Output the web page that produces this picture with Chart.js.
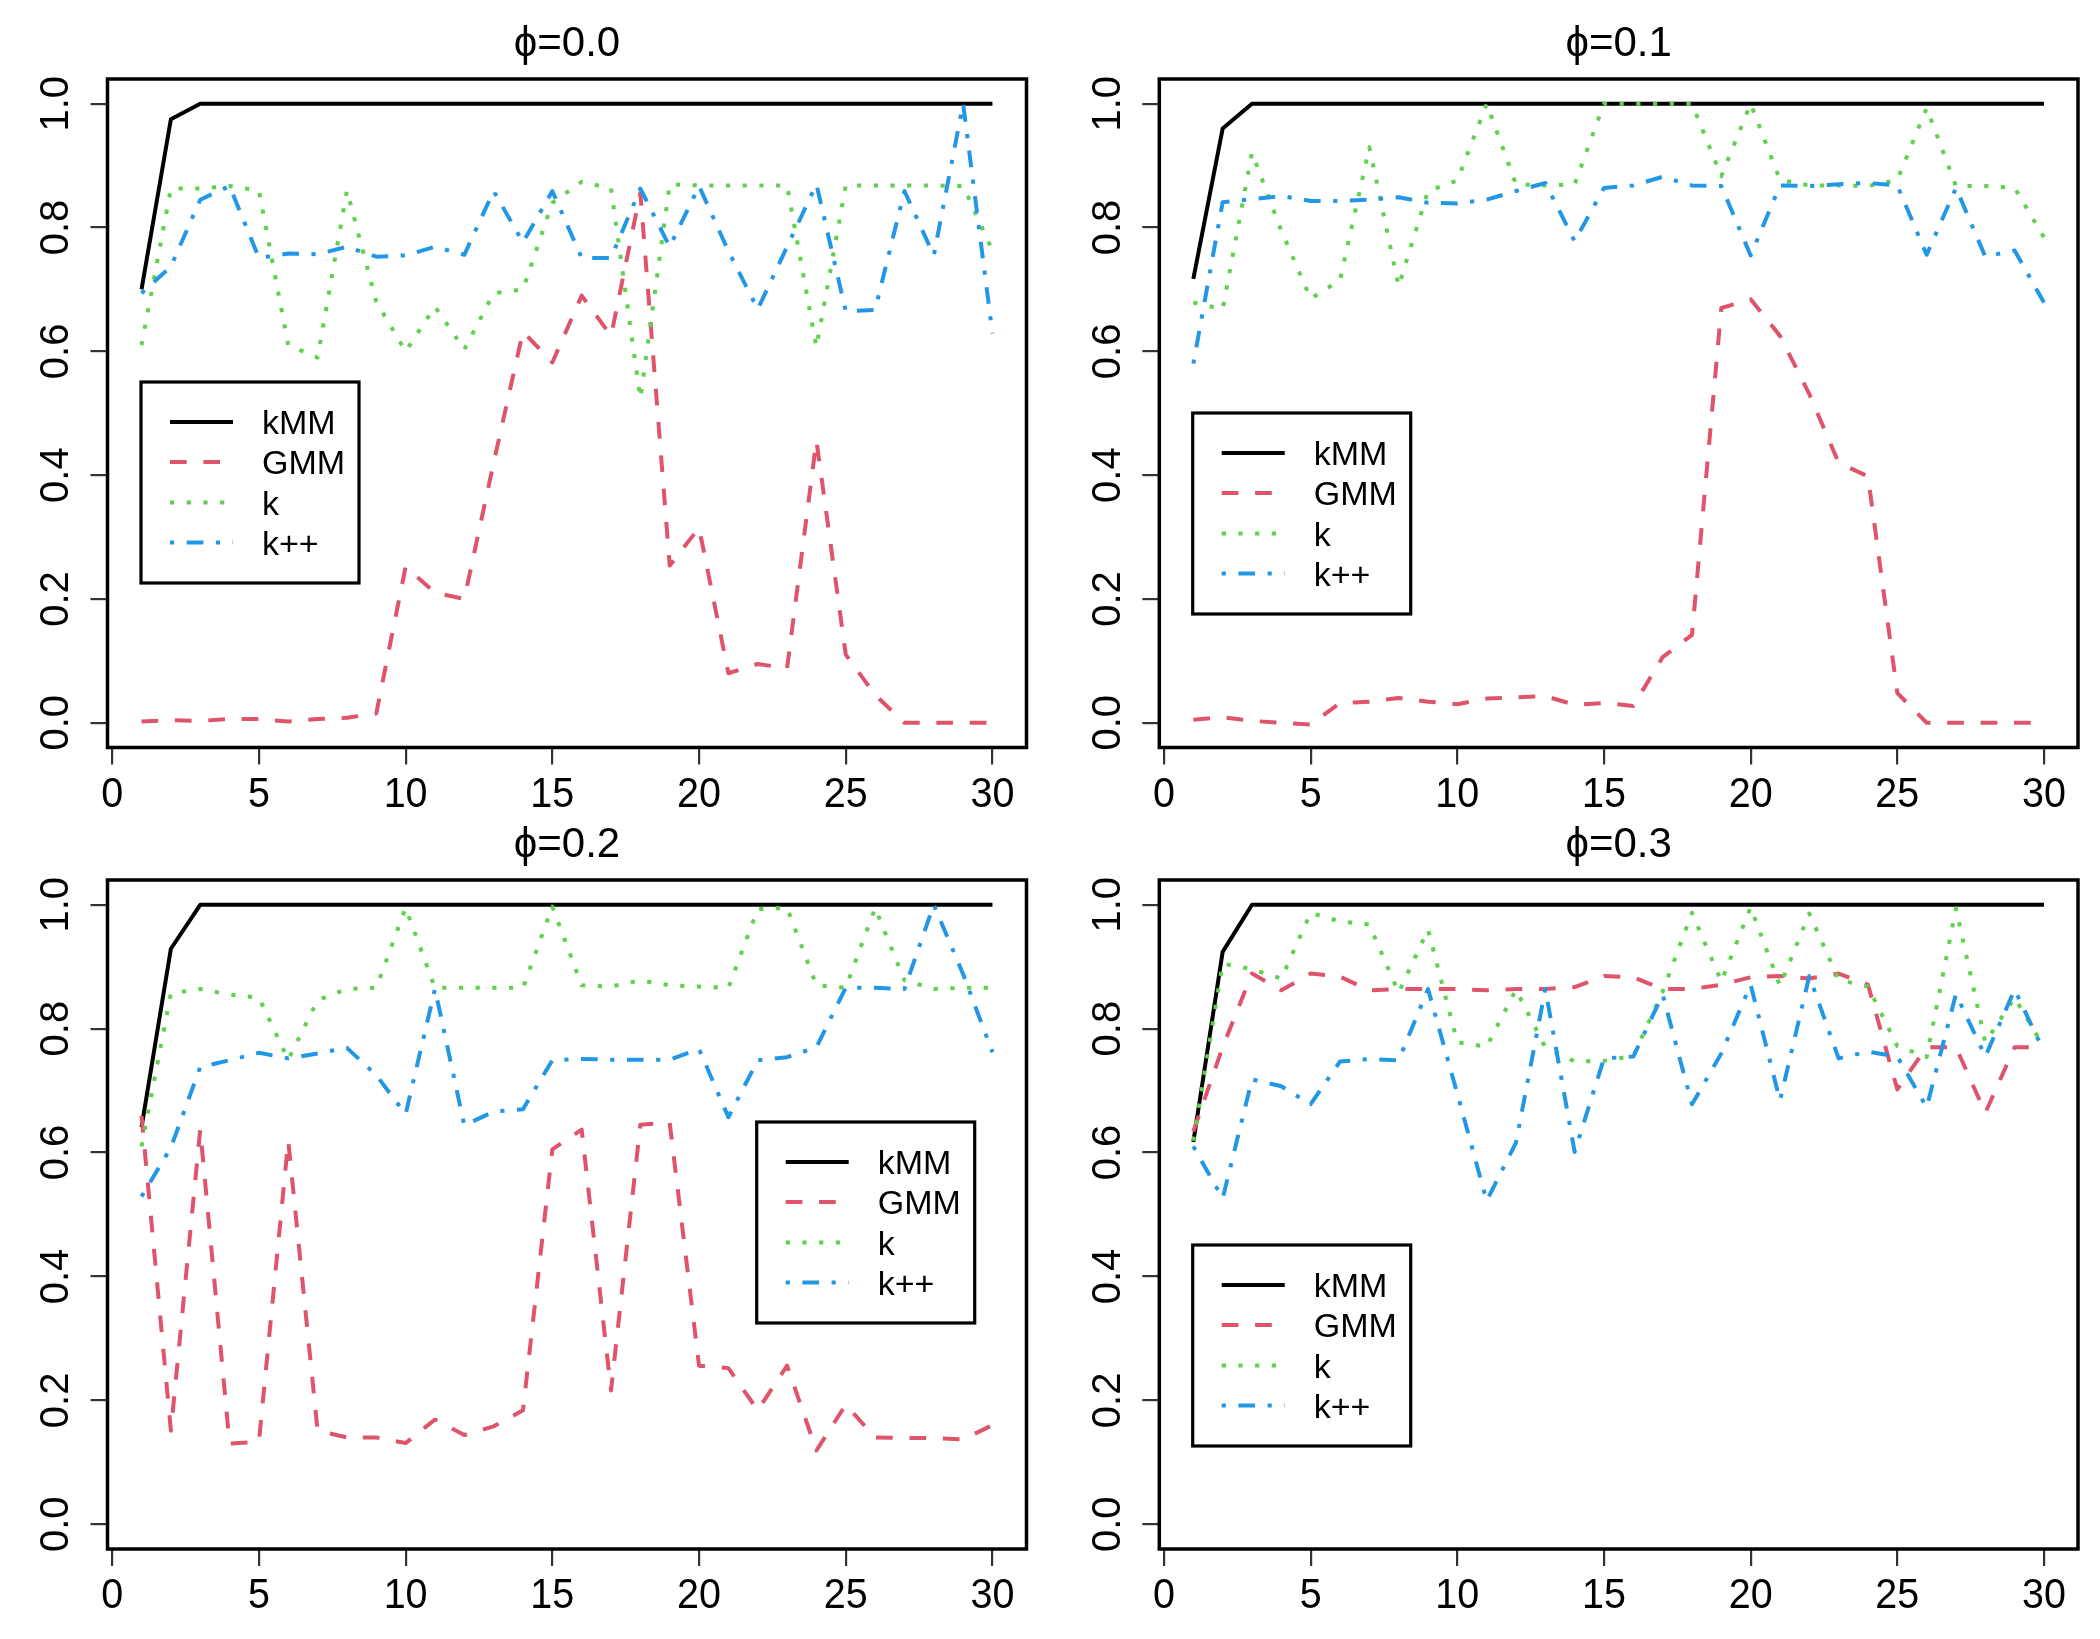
<!DOCTYPE html>
<html>
<head>
<meta charset="utf-8">
<script src="https://cdn.jsdelivr.net/npm/chart.js@4.4.1/dist/chart.umd.min.js"></script>
<style>
  html, body { margin: 0; padding: 0; background: #ffffff; }
  #wrap { position: relative; width: 2100px; height: 1639px; background: #ffffff; overflow: hidden; }
  #wrap canvas { position: absolute; }
</style>
</head>
<body>
<div id="wrap"></div>
<script>
// ---------------- DATA ----------------
const iterations = [1,2,3,4,5,6,7,8,9,10,11,12,13,14,15,16,17,18,19,20,21,22,23,24,25,26,27,28,29,30];
const seriesNames = ['kMM', 'GMM', 'k', 'k++'];
const panelTitles = ['\u03D5=0.0', '\u03D5=0.1', '\u03D5=0.2', '\u03D5=0.3'];
const xTickValues = [0, 5, 10, 15, 20, 25, 30];
const xTickLabels = ['0', '5', '10', '15', '20', '25', '30'];
const yTickValues = [0, 0.2, 0.4, 0.6, 0.8, 1.0];
const yTickLabels = ['0.0', '0.2', '0.4', '0.6', '0.8', '1.0'];

// phi = 0.0
const kMM_phi00 = [0.70,0.975,1,1,1,1,1,1,1,1,1,1,1,1,1,1,1,1,1,1,1,1,1,1,1,1,1,1,1,1];
const GMM_phi00 = [0.002,0.004,0.003,0.006,0.006,0.002,0.006,0.008,0.015,0.252,0.21,0.20,0.42,0.632,0.582,0.69,0.625,0.856,0.254,0.315,0.08,0.095,0.088,0.456,0.11,0.045,0.0,0.0,0.0,0.0];
const k_phi00   = [0.61,0.863,0.863,0.867,0.86,0.61,0.59,0.86,0.68,0.60,0.672,0.603,0.694,0.70,0.84,0.874,0.863,0.524,0.87,0.868,0.868,0.868,0.868,0.607,0.868,0.868,0.868,0.868,0.867,0.763];
const kpp_phi00 = [0.694,0.737,0.845,0.867,0.751,0.758,0.757,0.769,0.753,0.755,0.769,0.756,0.859,0.776,0.859,0.751,0.751,0.863,0.769,0.867,0.762,0.668,0.769,0.87,0.665,0.667,0.859,0.755,1.0,0.629];

// phi = 0.1
const kMM_phi01 = [0.717,0.96,1,1,1,1,1,1,1,1,1,1,1,1,1,1,1,1,1,1,1,1,1,1,1,1,1,1,1,1];
const GMM_phi01 = [0.005,0.009,0.003,0.0,-0.003,0.032,0.034,0.04,0.034,0.03,0.039,0.041,0.043,0.029,0.032,0.027,0.106,0.142,0.67,0.684,0.625,0.531,0.42,0.398,0.048,0.0,0.0,0.0,0.0,0.0];
const k_phi01   = [0.679,0.668,0.921,0.795,0.685,0.715,0.93,0.705,0.859,0.876,1.0,0.87,0.868,0.87,1.0,1.0,1.0,1.0,0.883,1.0,0.877,0.868,0.868,0.867,0.877,0.993,0.867,0.867,0.864,0.784];
const kpp_phi01 = [0.58,0.841,0.846,0.851,0.843,0.843,0.845,0.849,0.84,0.839,0.845,0.859,0.872,0.778,0.864,0.868,0.882,0.868,0.867,0.755,0.868,0.867,0.87,0.872,0.868,0.756,0.864,0.753,0.763,0.679];

// phi = 0.2
const kMM_phi02 = [0.641,0.929,1,1,1,1,1,1,1,1,1,1,1,1,1,1,1,1,1,1,1,1,1,1,1,1,1,1,1,1];
const GMM_phi02 = [0.659,0.151,0.637,0.13,0.133,0.619,0.151,0.14,0.14,0.131,0.169,0.144,0.158,0.184,0.605,0.637,0.216,0.645,0.648,0.256,0.252,0.184,0.256,0.119,0.193,0.14,0.139,0.139,0.137,0.16];
const k_phi02   = [0.61,0.857,0.864,0.855,0.85,0.75,0.846,0.864,0.866,0.995,0.866,0.866,0.866,0.866,0.997,0.87,0.868,0.878,0.87,0.868,0.866,0.993,0.995,0.87,0.866,0.995,0.878,0.864,0.866,0.866];
const kpp_phi02 = [0.529,0.608,0.738,0.749,0.761,0.752,0.76,0.769,0.725,0.662,0.864,0.644,0.666,0.67,0.749,0.751,0.75,0.75,0.75,0.767,0.657,0.749,0.754,0.77,0.866,0.866,0.864,1.0,0.888,0.762];

// phi = 0.3
const kMM_phi03 = [0.617,0.924,1,1,1,1,1,1,1,1,1,1,1,1,1,1,1,1,1,1,1,1,1,1,1,1,1,1,1,1];
const GMM_phi03 = [0.634,0.77,0.889,0.862,0.889,0.884,0.862,0.864,0.864,0.864,0.862,0.864,0.864,0.867,0.885,0.883,0.864,0.864,0.871,0.883,0.885,0.881,0.889,0.871,0.702,0.77,0.77,0.664,0.77,0.77];
const k_phi03   = [0.619,0.905,0.896,0.881,0.987,0.973,0.968,0.858,0.96,0.778,0.771,0.863,0.77,0.747,0.748,0.756,0.86,0.987,0.876,0.996,0.869,0.986,0.879,0.868,0.772,0.754,0.994,0.778,0.85,0.77];
const kpp_phi03 = [0.61,0.526,0.718,0.707,0.678,0.747,0.751,0.749,0.864,0.695,0.522,0.616,0.864,0.601,0.752,0.755,0.855,0.678,0.76,0.871,0.684,0.885,0.752,0.763,0.755,0.673,0.856,0.755,0.863,0.763];

const panelSeries = [
  [kMM_phi00, GMM_phi00, k_phi00, kpp_phi00],
  [kMM_phi01, GMM_phi01, k_phi01, kpp_phi01],
  [kMM_phi02, GMM_phi02, k_phi02, kpp_phi02],
  [kMM_phi03, GMM_phi03, k_phi03, kpp_phi03]
];

// ---------------- STYLE / LAYOUT ----------------
const FONT = '"Liberation Sans", Arial, Helvetica, sans-serif';
const seriesStyles = [
  { color: '#000000', dash: [], width: 4 },
  { color: '#DF536B', dash: [16.7, 16.7], width: 4 },
  { color: '#61D04F', dash: [4.2, 12.5], width: 4 },
  { color: '#2297E6', dash: [4.2, 12.5, 16.7, 12.5], width: 4 }
];
const panelLayout = [
  { left: 0,    top: 0,   w: 1050, h: 820, area: { left: 107.5, top: 79, right: 1026.5, bottom: 747.5 }, legend: { dx: 33.5,  dy: 303 } },
  { left: 1050, top: 0,   w: 1050, h: 820, area: { left: 109.3, top: 79, right: 1028,   bottom: 747.5 }, legend: { dx: 33.4,  dy: 334 } },
  { left: 0,    top: 820, w: 1050, h: 819, area: { left: 107.5, top: 60, right: 1026.5, bottom: 729 },   legend: { dx: 649.2, dy: 242 } },
  { left: 1050, top: 820, w: 1050, h: 819, area: { left: 109.3, top: 60, right: 1028,   bottom: 729 },   legend: { dx: 33.4,  dy: 365 } }
];

function makeDecor(idx) {
  const L = panelLayout[idx];
  return {
    id: 'decor' + idx,
    afterDraw(chart) {
      const ctx = chart.ctx;
      const A = chart.chartArea;
      const xs = chart.scales.x, ys = chart.scales.y;
      ctx.save();
      // plot frame
      ctx.setLineDash([]);
      ctx.strokeStyle = '#000';
      ctx.lineWidth = 3.5;
      ctx.strokeRect(A.left, A.top, A.right - A.left, A.bottom - A.top);

      ctx.fillStyle = '#000';
      // x tick labels
      ctx.font = '42px ' + FONT;
      ctx.textAlign = 'center';
      ctx.textBaseline = 'alphabetic';
      xTickValues.forEach((v, i) => {
        const px = xs.getPixelForValue(v);
        ctx.save();
        ctx.translate(px, A.bottom + 59);
        ctx.scale(0.94, 1);
        ctx.fillText(xTickLabels[i], 0, 0);
        ctx.restore();
      });
      // y tick labels (rotated, parallel to axis)
      ctx.font = '40px ' + FONT;
      yTickValues.forEach((v, i) => {
        const py = ys.getPixelForValue(v);
        ctx.save();
        ctx.translate(A.left - 39.5, py);
        ctx.rotate(-Math.PI / 2);
        ctx.fillText(yTickLabels[i], 0, 0);
        ctx.restore();
      });
      // title
      ctx.font = '42px ' + FONT;
      ctx.save();
      ctx.translate((A.left + A.right) / 2, A.top - 23);
      ctx.fillText(panelTitles[idx], 0, 0);
      ctx.restore();

      // legend
      const lx = A.left + L.legend.dx, ly = A.top + L.legend.dy;
      ctx.lineWidth = 3.2;
      ctx.strokeStyle = '#000';
      ctx.strokeRect(lx, ly, 218, 201);
      ctx.font = '34px ' + FONT;
      ctx.textAlign = 'left';
      chart.data.datasets.forEach((ds, i) => {
        const ry = ly + 40 * (i + 1) + (i >= 2 ? 0.5 : 0);
        ctx.save();
        ctx.strokeStyle = ds.borderColor;
        ctx.lineWidth = ds.borderWidth;
        ctx.setLineDash(ds.borderDash || []);
        ctx.lineDashOffset = 0;
        ctx.lineCap = 'butt';
        ctx.beginPath();
        ctx.moveTo(lx + 29, ry);
        ctx.lineTo(lx + 92, ry);
        ctx.stroke();
        ctx.restore();
        ctx.fillStyle = '#000';
        ctx.fillText(ds.label, lx + 121, ry + 12);
      });
      ctx.restore();
    }
  };
}

const wrap = document.getElementById('wrap');
panelLayout.forEach((L, idx) => {
  const cv = document.createElement('canvas');
  cv.width = L.w; cv.height = L.h;
  cv.style.left = L.left + 'px'; cv.style.top = L.top + 'px';
  cv.style.width = L.w + 'px'; cv.style.height = L.h + 'px';
  wrap.appendChild(cv);

  const datasets = panelSeries[idx].map((vals, s) => ({
    label: seriesNames[s],
    data: vals.map((v, i) => ({ x: iterations[i], y: v })),
    borderColor: seriesStyles[s].color,
    borderWidth: seriesStyles[s].width,
    borderDash: seriesStyles[s].dash,
    borderCapStyle: 'butt',
    borderJoinStyle: 'round',
    pointRadius: 0,
    fill: false,
    tension: 0,
    order: 4 - s
  }));

  const gridCommon = { drawOnChartArea: false, drawTicks: true, tickLength: 17, color: '#333', lineWidth: 2.2 };

  new Chart(cv.getContext('2d'), {
    type: 'line',
    data: { datasets },
    options: {
      responsive: false,
      animation: false,
      devicePixelRatio: 1,
      events: [],
      layout: { padding: { left: 0, top: L.area.top, right: L.w - L.area.right, bottom: 0 } },
      plugins: { legend: { display: false }, title: { display: false }, tooltip: { enabled: false } },
      scales: {
        x: {
          type: 'linear', min: -0.16, max: 31.16,
          afterBuildTicks: (s) => { s.ticks = xTickValues.map(v => ({ value: v })); },
          afterFit: (s) => { s.height = L.h - L.area.bottom; },
          border: { display: false },
          grid: gridCommon,
          ticks: { display: false }
        },
        y: {
          type: 'linear', min: -0.04, max: 1.04,
          afterBuildTicks: (s) => { s.ticks = yTickValues.map(v => ({ value: v })); },
          afterFit: (s) => { s.width = L.area.left; },
          border: { display: false },
          grid: gridCommon,
          ticks: { display: false }
        }
      }
    },
    plugins: [makeDecor(idx)]
  });
});
</script>
</body>
</html>
